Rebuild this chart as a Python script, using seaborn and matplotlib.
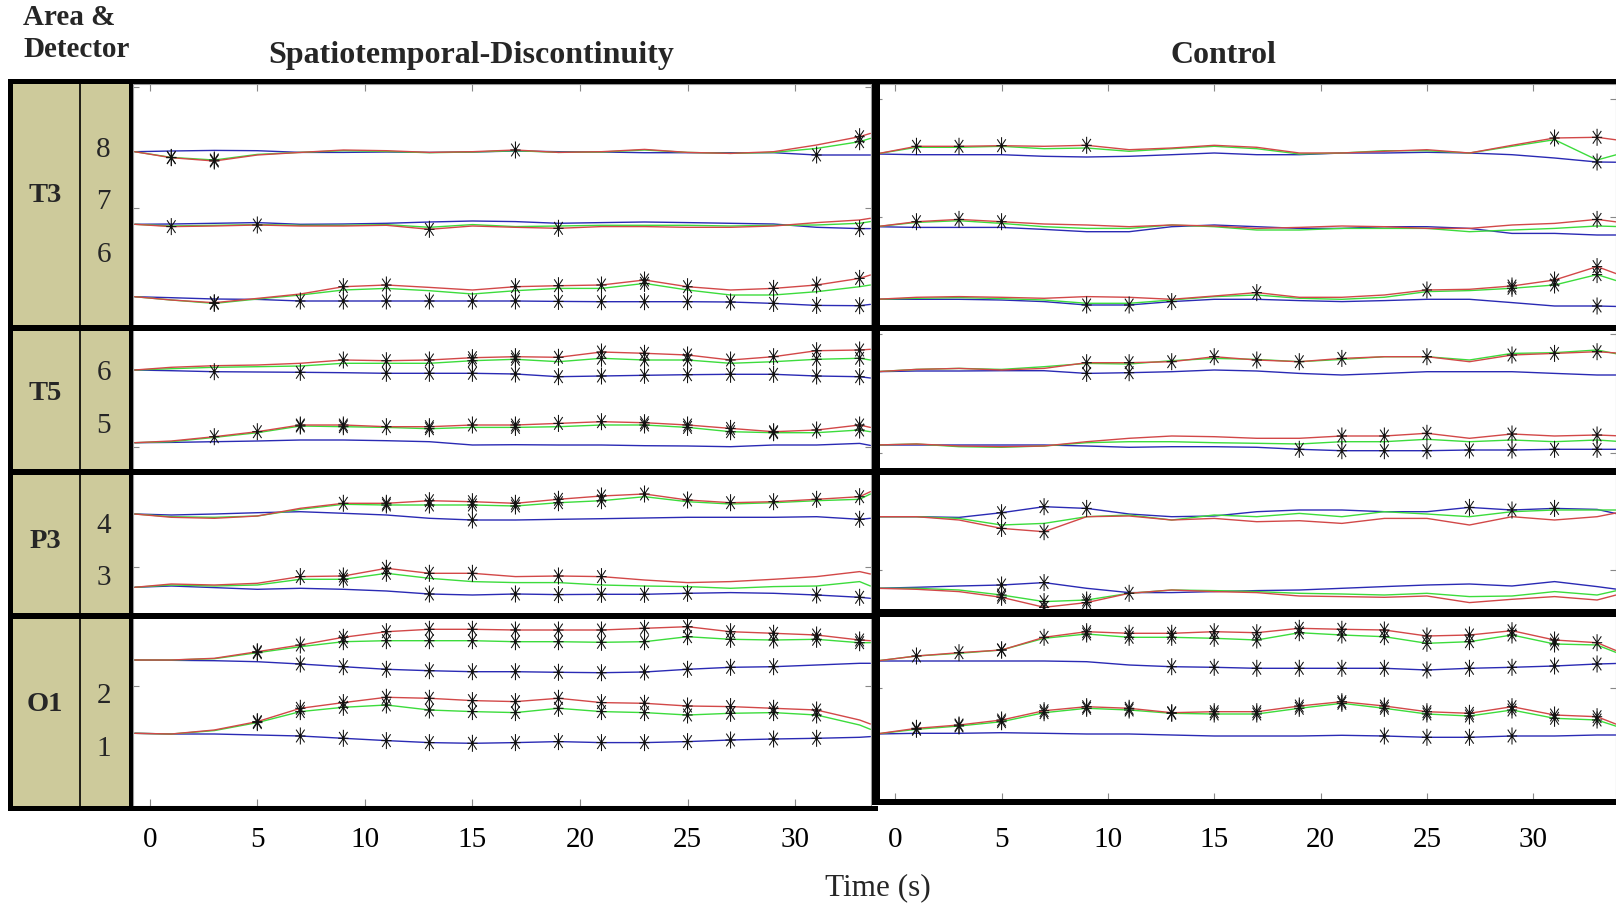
import matplotlib
matplotlib.use("Agg")
import matplotlib.pyplot as plt
import numpy as np
import pandas as pd
import seaborn as sns
from matplotlib.path import Path
from matplotlib.markers import MarkerStyle
from matplotlib.patches import Rectangle

# ------------------------------------------------------------------ DATA
# sample times (s)
T_SD = [-0.7, 1, 3, 5, 7, 9, 11, 13, 15, 17, 19, 21, 23, 25, 27, 29, 31, 33, 33.5]
T_CT = [-0.9, 1, 3, 5, 7, 9, 11, 13, 15, 17, 19, 21, 23, 25, 27, 29, 31, 33, 34.2]
TICKS = [0, 5, 10, 15, 20, 25, 30]

# ---- Spatiotemporal-Discontinuity (SD); R = red, G = green, B = blue trace
SD_T3_8_R = [0, -6, -9.3, -3.3, -0.7, 1.7, 1, -0.7, 0, 1.7, -0.7, 0, 2.3, -0.7, -1.7, 0, 6.7, 15, 18.3]
SD_T3_8_G = [0, -5.7, -8.3, -2.7, -0.7, 1, 0.3, -1, -0.3, 1, -0.7, -0.3, 1.7, -0.7, -1.7, -0.7, 3.3, 10, 13.3]
SD_T3_8_B = [0, 0.7, 1.3, 1, -0.7, -0.7, -0.3, -0.7, -0.3, 0.7, 0, -0.3, -1, -1, -1, -1, -3.3, -3.3, -3.3]
SD_T3_8_R_SIG = [1, 3, 17, 33]
SD_T3_8_G_SIG = [1, 3, 33]
SD_T3_8_B_SIG = [31]

SD_T3_7_R = [0, -2.3, -1.7, -0.7, -1.7, -1.7, -1, -5, -1.7, -3, -4, -2.3, -2.3, -3, -3, -1.7, 1.7, 4.3, 6]
SD_T3_7_G = [0, -1.7, -1, -0.3, -1, -1, -0.3, -3, -0.3, -2.3, -1.7, -1, -1, -1, -1.7, -1, -0.7, 1, 2.7]
SD_T3_7_B = [0, 0.3, 1, 1.7, 0, 0.3, 1, 2.3, 3.3, 2.7, 1, 1.7, 2.3, 1.7, 1, 0.3, -3, -4.3, -4.3]
SD_T3_7_R_SIG = [1, 5, 13, 19]
SD_T3_7_B_SIG = [33]

SD_T3_6_R = [0, -3.3, -6, -1.7, 2.7, 10, 11.7, 9.3, 6.7, 10, 11, 11.7, 16.7, 10, 6.7, 8.3, 11.7, 18.3, 21.7]
SD_T3_6_G = [0, -3.3, -6.7, -2.3, 1.7, 6.7, 8.3, 6, 2.7, 6, 8.3, 8.3, 13.3, 6.7, 1.7, 1.7, 5, 10, 11.7]
SD_T3_6_B = [0, -1, -2.3, -2.7, -4.3, -4.3, -4.3, -4.3, -4.3, -4.3, -4.7, -5, -5, -5, -5.3, -6.7, -8.7, -9, -7.7]
SD_T3_6_R_SIG = [3, 9, 11, 17, 19, 21, 23, 25, 29, 31, 33]
SD_T3_6_G_SIG = [3, 23]
SD_T3_6_B_SIG = [7, 9, 11, 13, 15, 17, 19, 21, 23, 25, 27, 29, 31, 33]

SD_T5_6_R = [0, 2.7, 4.3, 5, 6.7, 10, 9.3, 10, 12.3, 13.3, 12.7, 18, 16.7, 15, 10, 13.3, 19.3, 20, 20.7]
SD_T5_6_G = [0, 1.3, 2.7, 3.3, 4, 6.7, 6.7, 6.7, 9.3, 10.7, 8.3, 11.7, 10, 10, 6.7, 8.3, 10.7, 11.7, 10]
SD_T5_6_B = [0, -0.7, -1.7, -2, -2.3, -2.7, -3.3, -3.3, -3.3, -4, -6.7, -6, -5.3, -4.7, -4.3, -4.3, -6, -6.7, -8]
SD_T5_6_R_SIG = [9, 11, 13, 15, 17, 19, 21, 23, 25, 27, 29, 31, 33]
SD_T5_6_G_SIG = [15, 17, 21, 23, 25, 31, 33]
SD_T5_6_B_SIG = [3, 7, 11, 13, 15, 17, 19, 21, 23, 25, 27, 29, 31, 33]

SD_T5_5_R = [0, 1.7, 6, 11, 17.7, 17.7, 16, 16, 17.7, 17.7, 19.3, 21, 20, 17.7, 14.3, 11, 12.7, 17.7, 15.3]
SD_T5_5_G = [0, 1, 5.3, 10, 16.7, 16, 15.3, 14, 15.3, 15.3, 16, 17.7, 17.7, 15.3, 11, 10, 10, 12.7, 11]
SD_T5_5_B = [0, 0.3, 1, 1.7, 2.7, 2.7, 2, 1, -2.3, -2, -2.3, -2.3, -3, -3.3, -4, -2.3, -2.3, -0.7, -2.7]
SD_T5_5_R_SIG = [3, 5, 7, 9, 11, 13, 15, 17, 19, 21, 23, 25, 27, 29, 31, 33]
SD_T5_5_G_SIG = [7, 9, 13, 17, 23, 25, 27, 29, 33]

SD_P3_4_R = [0, -3.3, -4.3, -2, 5.7, 10.7, 10.7, 13.3, 12.3, 10.7, 14.7, 18, 20, 14, 11.3, 12.3, 14.7, 17.3, 22.3]
SD_P3_4_G = [0, -2.7, -3.3, -2, 4.7, 9.7, 9, 9, 9, 8, 11.3, 13.3, 17.3, 12.3, 10, 11.3, 13.3, 14.7, 20]
SD_P3_4_B = [0, -1, 0, 1.3, 2.3, 0.7, -1, -4.3, -6, -6, -5.3, -4.7, -4, -3.3, -3.3, -3.3, -2.7, -5.3, -4.3]
SD_P3_4_R_SIG = [9, 11, 13, 15, 17, 19, 21, 23, 25, 27, 29, 31, 33]
SD_P3_4_G_SIG = [11, 13, 15, 17, 19, 21]
SD_P3_4_B_SIG = [15, 33]

SD_P3_3_R = [0, 3.3, 2.3, 4, 10.7, 11.3, 19, 14, 14, 10.7, 11.3, 10.7, 7.3, 4.7, 5.7, 8, 10.7, 15.7, 13.3]
SD_P3_3_G = [0, 2.3, 1.3, 2.3, 8, 8, 14, 9, 5.7, 4.7, 4.7, 2.3, 1.3, 0.7, -1, 0.7, 1.3, 5.7, 1.3]
SD_P3_3_B = [0, 1.3, -0.3, -2, -1, -2, -3.7, -6.7, -7.7, -6.7, -7.3, -7, -7, -6, -5.3, -6, -7.7, -10, -11]
SD_P3_3_R_SIG = [7, 9, 11, 13, 15, 19, 21]
SD_P3_3_G_SIG = [9, 11]
SD_P3_3_B_SIG = [13, 17, 19, 21, 23, 25, 31, 33]

SD_O1_2_R = [0, 0, 1.7, 8.3, 15, 22.7, 28.3, 30.7, 30.7, 30, 30, 30, 31.7, 33.3, 28.3, 26.7, 25, 20, 19.3]
SD_O1_2_G = [0, 0, 1.3, 7.3, 13.3, 18.3, 19.3, 19.3, 19.3, 18.3, 18.3, 17.7, 18.3, 23.3, 20.7, 20, 20.7, 17.3, 17.3]
SD_O1_2_B = [0, -0.3, -0.7, -1.7, -4, -6.7, -9.3, -10.7, -11.7, -11.7, -12.3, -12.7, -12, -9.3, -7.3, -6.7, -5, -3.3, -3.3]
SD_O1_2_R_SIG = [5, 7, 9, 11, 13, 15, 17, 19, 21, 23, 25, 27, 29, 31, 33]
SD_O1_2_G_SIG = [5, 9, 11, 13, 15, 17, 19, 21, 23, 25, 27, 29, 31, 33]
SD_O1_2_B_SIG = [7, 9, 11, 13, 15, 17, 19, 21, 23, 25, 27, 29]

SD_O1_1_R = [0, -0.7, 3.3, 11.7, 25, 30.7, 36, 35, 32.7, 31.7, 35, 30.7, 30, 27.3, 26.7, 25, 23.3, 13.3, 9.3]
SD_O1_1_G = [0, -0.7, 2.7, 10.7, 21.7, 26, 28.3, 23.3, 21.7, 20.7, 25, 21.7, 20.7, 18.3, 20, 20.7, 18.3, 8.3, 4]
SD_O1_1_B = [0, -0.7, -0.7, -1.7, -2.7, -5, -7.3, -9.3, -10, -9.3, -8.3, -9.3, -9.3, -8.3, -6.7, -5.7, -5, -4, -3.3]
SD_O1_1_R_SIG = [5, 7, 9, 11, 13, 15, 17, 19, 21, 23, 25, 27, 29, 31]
SD_O1_1_G_SIG = [5, 7, 9, 11, 13, 15, 17, 19, 21, 23, 25, 27, 29, 31]
SD_O1_1_B_SIG = [7, 9, 11, 13, 15, 17, 19, 21, 23, 25, 27, 29, 31]

# ---- Control (CT)
CT_T3_8_R = [0, 7.7, 7.7, 8.3, 7.7, 8.7, 4.3, 6, 8.7, 6.7, 1, 1, 2.7, 4.3, 1, 8.7, 16, 16.7, 13.3]
CT_T3_8_G = [0, 6.7, 6.7, 7.7, 5.3, 6, 2.7, 5.3, 7.7, 5.3, 0, 1, 3.3, 3.3, 1, 7.7, 14.3, -6, 1]
CT_T3_8_B = [0, -0.7, -0.7, -0.7, -2.3, -3, -2.3, -0.7, 1, -0.7, -0.7, 1, 1, 1.7, 1, -0.7, -4, -8, -8.3]
CT_T3_8_R_SIG = [1, 3, 5, 9, 31, 33]
CT_T3_8_B_SIG = [33]

CT_T3_7_R = [0, 5, 7.3, 5, 2.7, 1.7, 0, 1.7, 0.7, -1.7, -0.7, 0.7, 0, -1.7, -1.7, 1.7, 3.3, 7.3, 4]
CT_T3_7_G = [0, 4.3, 6, 3.3, 0, -1.7, -1.7, 1.7, 0, -3.3, -3.3, -1.7, -1.7, -1.7, -5, -3.3, -1.7, 0.7, 0]
CT_T3_7_B = [0, -0.7, -0.7, -0.7, -2.7, -5, -5, 0, 1.7, 0, -1.7, -1.7, 0, 0, -1.7, -6.7, -6.7, -8.3, -8.3]
CT_T3_7_R_SIG = [1, 3, 5, 33]

CT_T3_6_R = [0, 2, 2.7, 2, 1, 2.7, 2, 0, 3.3, 6.7, 2, 2, 4.3, 9.3, 10, 13.3, 19.3, 32.7, 23.3]
CT_T3_6_G = [0, 1, 1.7, 0.7, -0.7, -4, -4, -0.7, 2.7, 4.3, 1, 0, 2, 7.7, 8.7, 11, 14.3, 24.7, 16.7]
CT_T3_6_B = [0, 0, 0, -0.7, -2.3, -5.7, -5.7, -2.3, 0, 0, -1.3, -2.3, -1.3, 0, 0, -3.3, -6.7, -6.7, -7.3]
CT_T3_6_R_SIG = [17, 25, 29, 31, 33]
CT_T3_6_G_SIG = [29, 31, 33]
CT_T3_6_B_SIG = [9, 11, 13, 33]

CT_T5_6_R = [0, 2.3, 3.3, 1.7, 3.3, 9, 9, 10, 15, 11.7, 10, 13.3, 15, 15, 10, 16.7, 18.3, 20, 18.3]
CT_T5_6_G = [0, 2.3, 3.3, 2.3, 5, 8.3, 7.7, 11, 13.3, 12.3, 10, 12.3, 15, 15, 11.7, 18.3, 19, 21.7, 16.7]
CT_T5_6_B = [0, 0.7, 0.7, 1, 1, -1.7, -1, 0, 1.7, 0.7, -1.7, -3.3, -1.7, 0, 0, 0, -1.7, -3.3, -3.3]
CT_T5_6_R_SIG = [9, 11, 13, 15, 17, 19, 21, 25, 29, 31, 33]
CT_T5_6_B_SIG = [9, 11]

CT_T5_5_R = [0, 1, -1, -1.7, -1, 3.3, 6.7, 9, 8.3, 6.7, 6.7, 9, 9, 11.7, 6.7, 11, 9, 10, 9]
CT_T5_5_G = [0, 1, -1.7, -2.3, -1, 2.3, 3.3, 3.3, 2.3, 1.7, 1, 3.3, 3.3, 5.7, 3.3, 5, 3.3, 5, 3.3]
CT_T5_5_B = [0, 0, 0, 0, 0, -1, -2.3, -1.7, -1.7, -2.3, -4.3, -5.7, -5.7, -5.7, -5, -5, -4.3, -4.3, -4.3]
CT_T5_5_R_SIG = [21, 23, 25, 29, 33]
CT_T5_5_B_SIG = [19, 21, 23, 25, 27, 29, 31, 33]

CT_P3_4_R = [0, 0, -3.3, -11.7, -15, 0, 0.7, -3.3, -1.7, -5, -4, -6.7, -1.7, -1.7, -8.3, 0, -3.3, 0, 5]
CT_P3_4_G = [0, 0, -1.7, -8.3, -6.7, 0, 1.7, -3.3, 1.7, 0, 3.3, 0, 5, 2.7, 0, 5, 6.7, 6.7, 6.7]
CT_P3_4_B = [0, 0, -0.7, 4, 10, 8.3, 2.7, 0, 0.7, 5, 6.7, 6.7, 5, 5, 9.3, 6.7, 8.3, 7.3, 1.7]
CT_P3_4_R_SIG = [5, 7]
CT_P3_4_B_SIG = [5, 7, 9, 27, 29, 31]

CT_P3_3_R = [0, -1, -3.3, -9, -19, -14.3, -5, -1.7, -3.3, -4.3, -7.7, -8.3, -9, -7.7, -14.3, -11, -8.3, -11.7, -5]
CT_P3_3_G = [0, 0, -1.7, -6.7, -13.3, -11.7, -5, -1.7, -2.3, -3.3, -5, -5.7, -6.7, -5, -8.3, -7.7, -3.3, -6.7, -1]
CT_P3_3_B = [0, 1, 2.3, 3.3, 5.7, 0, -4.3, -4.3, -3.3, -2.3, -1.7, 0, 1.7, 3.3, 4.3, 2.3, 6.7, 1.7, -1.7]
CT_P3_3_R_SIG = [5, 7, 9, 11]
CT_P3_3_G_SIG = [5, 7, 9]
CT_P3_3_B_SIG = [5, 7]

CT_O1_2_R = [0, 5, 8.3, 11, 23.7, 29.3, 27.7, 27.7, 29.3, 28.3, 32.7, 31.7, 31, 25, 26, 30.3, 21, 18.3, 7.7]
CT_O1_2_G = [0, 5, 7.7, 11, 22.7, 27, 23.7, 23.7, 22.7, 21, 28.3, 26, 24.3, 17.7, 19.3, 26, 17, 16, 6]
CT_O1_2_B = [0, 0, 0, 0, 0, -0.7, -4, -5.7, -6.3, -7.3, -7.3, -7.3, -7.3, -9, -7.3, -6.3, -5, -3, -2.3]
CT_O1_2_R_SIG = [1, 3, 5, 7, 9, 11, 13, 15, 17, 19, 21, 23, 25, 27, 29, 31, 33]
CT_O1_2_G_SIG = [5, 9, 11, 13, 15, 17, 19, 21, 23, 25, 27, 29, 31]
CT_O1_2_B_SIG = [13, 15, 17, 19, 21, 23, 25, 27, 29, 31, 33]

CT_O1_1_R = [0, 5.7, 9, 14, 23.3, 27.3, 25.7, 21.3, 22.3, 22.3, 28, 32.3, 28, 22.3, 20.7, 27.3, 19, 17.3, 7.3]
CT_O1_1_G = [0, 4.7, 8, 12.3, 21.3, 25.7, 24, 20.7, 20, 20, 25.7, 30.7, 25.7, 20, 18, 24, 15.7, 14, 5.7]
CT_O1_1_B = [0, 0.7, 0.7, 1.3, 0.7, 0, 0, -1, -2, -2, -2, -1.3, -2, -3.3, -3.3, -2, -2, -1, -1]
CT_O1_1_R_SIG = [1, 3, 5, 7, 9, 11, 13, 15, 17, 19, 21, 23, 25, 27, 29, 31, 33]
CT_O1_1_G_SIG = [1, 3, 5, 7, 9, 11, 13, 15, 17, 19, 21, 23, 25, 27, 29, 31, 33]
CT_O1_1_B_SIG = [23, 25, 27, 29]

AREAS = ["T3", "T5", "P3", "O1"]
DETECTORS = {"T3": ["8", "7", "6"], "T5": ["6", "5"], "P3": ["4", "3"], "O1": ["2", "1"]}
TITLES = {"SD": "Spatiotemporal-Discontinuity", "CT": "Control"}

# ------------------------------------------------------------------ LAYOUT (pixels)
W, H = 1616, 906
BASE = {  # trace baseline position (px from top) per detector
    "SD": {("T3", "8"): 151.7, ("T3", "7"): 224.3, ("T3", "6"): 296.7,
           ("T5", "6"): 370.0, ("T5", "5"): 442.7, ("P3", "4"): 514.0,
           ("P3", "3"): 587.3, ("O1", "2"): 660.0, ("O1", "1"): 733.3},
    "CT": {("T3", "8"): 154.0, ("T3", "7"): 226.7, ("T3", "6"): 299.3,
           ("T5", "6"): 371.7, ("T5", "5"): 445.0, ("P3", "4"): 516.7,
           ("P3", "3"): 588.3, ("O1", "2"): 661.0, ("O1", "1"): 734.0},
}
AX_BOX = {"SD": (133, 84, 871, 806), "CT": (876, 84, 1616, 800)}
XLIM = {"SD": (-0.781, 33.53), "CT": (-0.903, 33.89)}
YTICKS = {"SD": [87, 208, 447, 567, 686], "CT": [99, 217, 334, 453, 570, 688]}
TGRID = {"SD": T_SD, "CT": T_CT}
COLORS = {"R": "#D24848", "G": "#3CDC3C", "B": "#2A2AB4"}
OLIVE = "#CDCA9B"

# ------------------------------------------------------------------ BUILD TABLES
line_rows, star_rows = [], []
for panel in ("SD", "CT"):
    tg = TGRID[panel]
    for area in AREAS:
        for det in DETECTORS[area]:
            base = BASE[panel][(area, det)]
            for sig in "BGR":
                vals = globals()[f"{panel}_{area}_{det}_{sig}"]
                assert len(vals) == len(tg)
                for t, v in zip(tg, vals):
                    line_rows.append((panel, f"{area}-{det}", sig, t, base - v))
                for ts in globals().get(f"{panel}_{area}_{det}_{sig}_SIG", []):
                    i = tg.index(ts)
                    star_rows.append((panel, f"{area}-{det}", sig, ts, base - vals[i]))
lines = pd.DataFrame(line_rows, columns=["panel", "det", "sig", "t", "y"])
stars = pd.DataFrame(star_rows, columns=["panel", "det", "sig", "t", "y"])

# ------------------------------------------------------------------ STYLE
sns.set_style("white")
plt.rcParams["font.family"] = ["Liberation Serif", "DejaVu Serif"]

fig = plt.figure(figsize=(W / 100, H / 100), dpi=100)
fig.patch.set_facecolor("white")


def px_axes(x0, y0, x1, y1):
    return fig.add_axes([x0 / W, 1 - y1 / H, (x1 - x0) / W, (y1 - y0) / H])


# MATLAB-like asterisk marker (taller than wide)
_v = [(0, -1), (0, 1), (-0.6, 0), (0.6, 0), (-0.5, -0.75), (0.5, 0.75), (-0.5, 0.75), (0.5, -0.75)]
_c = [Path.MOVETO, Path.LINETO] * 4
STAR = MarkerStyle(Path(_v, _c), fillstyle="none")

for panel in ("SD", "CT"):
    x0, y0, x1, y1 = AX_BOX[panel]
    ax = px_axes(x0, y0, x1, y1)
    ax.set_facecolor("white")
    d = lines[lines.panel == panel]
    sns.lineplot(data=d, x="t", y="y", hue="sig", units="det", estimator=None,
                 sort=False, hue_order=["B", "G", "R"], palette=COLORS,
                 linewidth=1.0, legend=False, ax=ax)
    s = stars[stars.panel == panel]
    sns.scatterplot(data=s, x="t", y="y", marker=STAR, color="#111111", s=150,
                    linewidth=0.75, legend=False, ax=ax, zorder=5)
    ax.set_xlim(*XLIM[panel])
    ax.set_ylim(y1, y0)
    ax.set_xticks(TICKS)
    ax.set_xticklabels([str(t) for t in TICKS])
    ax.set_yticks(YTICKS[panel])
    ax.set_yticklabels([])
    ax.set_xlabel("")
    ax.set_ylabel("")
    pad = (827 - y1) / 100 * 72
    ax.tick_params(axis="x", direction="in", length=5, width=0.8, color="#888888",
                   top=True, bottom=True, labelsize=21, pad=pad, labelcolor="black")
    ax.tick_params(axis="y", direction="in", length=4, width=0.8, color="#888888",
                   left=True, right=True)
    for sp in ax.spines.values():
        sp.set_color("#9a9a9a")
        sp.set_linewidth(0.8)

# ------------------------------------------------------------------ OVERLAY (frames, table, text)
ov = fig.add_axes([0, 0, 1, 1])
ov.set_xlim(0, W)
ov.set_ylim(H, 0)
ov.axis("off")
ov.patch.set_alpha(0)
ov.set_zorder(10)


def box(x0, y0, x1, y1, color="black"):
    ov.add_patch(Rectangle((x0, y0), x1 - x0, y1 - y0, facecolor=color, edgecolor="none"))


box(13, 84, 129, 806, OLIVE)
ov.plot([79.5, 79.5], [84, 806], color="black", lw=1.2, solid_capstyle="butt")
for r in [(8, 79, 1616, 84), (8, 79, 13, 811), (129, 79, 133, 811), (8, 806, 878, 811),
          (8, 325, 872, 331), (8, 469, 872, 475), (8, 613, 872, 619),
          (872, 79, 880, 805),
          (876, 325, 1616, 331), (876, 468, 1616, 475), (876, 609, 1616, 617),
          (876, 799, 1616, 805)]:
    box(*r)

# header texts
ov.text(23, 25, "Area &", fontsize=21, fontweight="bold", ha="left", va="baseline")
ov.text(23, 57, "Detector", fontsize=21, fontweight="bold", ha="left", va="baseline")
ov.text(471, 62.7, TITLES["SD"], fontsize=23, fontweight="bold", ha="center", va="baseline")
ov.text(1223, 62.7, TITLES["CT"], fontsize=23, fontweight="bold", ha="center", va="baseline")

AREA_BASELINE = {"T3": 201.8, "T5": 399.5, "P3": 547.8, "O1": 711.2}
DET_BASELINE = {("T3", "8"): 157, ("T3", "7"): 209, ("T3", "6"): 262,
                ("T5", "6"): 380, ("T5", "5"): 432.7, ("P3", "4"): 533.3,
                ("P3", "3"): 585, ("O1", "2"): 702.7, ("O1", "1"): 755.7}
for area in AREAS:
    ov.text(45, AREA_BASELINE[area], area, fontsize=20.5, fontweight="bold",
            ha="center", va="baseline")
    for det in DETECTORS[area]:
        ov.text(103.5, DET_BASELINE[(area, det)], det, fontsize=21,
                ha="center", va="baseline")

ov.text(878, 895, "Time (s)", fontsize=22.5, ha="center", va="baseline")

fig.savefig("out.png", dpi=100, facecolor="white")
